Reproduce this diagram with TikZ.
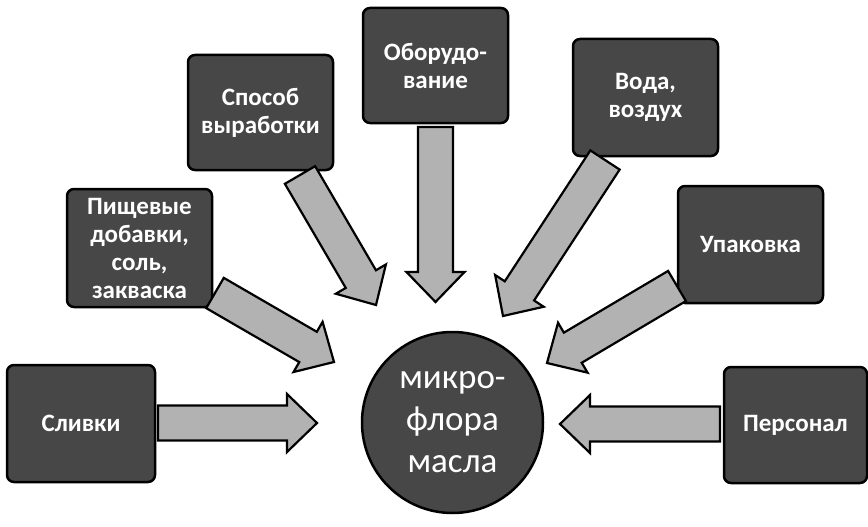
\documentclass[tikz,border=0pt]{standalone}
\usepackage{fontspec}
\setmainfont{Carlito}
\usetikzlibrary{calc}
\tikzset{
  srcbox/.style={draw=black, line width=2.5pt, rounded corners=7pt, fill=black!72,
    minimum width=145pt, minimum height=116pt, inner sep=2pt, align=center,
    text=white, font=\bfseries\fontsize{25}{28}\selectfont},
  hub/.style={circle, draw=black, line width=2.5pt, fill=black!72, minimum size=181pt,
    inner sep=0pt, align=center, text=white, font=\fontsize{35}{42}\selectfont},
  arrowbody/.style={draw=black, line width=2.2pt, fill=black!30, line join=miter}
}
\newcommand\blkarrow[2]{%
  \coordinate (hb) at ($(#2)!30pt!(#1)$);
  \draw[arrowbody] ($(#1)!17.5pt!90:(#2)$) -- ($(hb)!17.5pt!90:(#2)$)
    -- ($(hb)!29pt!90:(#2)$) -- (#2) -- ($(hb)!29pt!-90:(#2)$)
    -- ($(hb)!17.5pt!-90:(#2)$) -- ($(#1)!17.5pt!-90:(#2)$) -- cycle;
}
\begin{document}
\begin{tikzpicture}[x=1pt, y=-1pt]
\useasboundingbox (0,0) rectangle (868,527);
% source boxes
\node[srcbox, minimum width=148pt, minimum height=117pt] (sl) at (81,423.5) {Сливки};
\node[srcbox, minimum height=118pt] (pd) at (139.5,248) {Пищевые\\добавки,\\соль,\\закваска};
\node[srcbox, minimum height=115pt] (sp) at (260.5,112.5) {Способ\\выработки};
\node[srcbox, minimum height=115pt] (ob) at (435.5,65.5) {Оборудо-\\вание};
\node[srcbox, minimum height=117pt] (vv) at (645.5,97.5) {Вода,\\воздух};
\node[srcbox, minimum height=117pt] (up) at (750.5,244.5) {Упаковка};
\node[srcbox, minimum width=143pt, minimum height=116pt] (ps) at (795.5,425) {Персонал};
% hub
\node[hub] (mf) at (452.5,422.5) {микро-\\флора\\масла};
% arrow ends
\coordinate (a1s) at (158,423);   \coordinate (a1e) at (317,423);
\coordinate (a2s) at (215,293);   \coordinate (a2e) at (334,362);
\coordinate (a3s) at (300,175);   \coordinate (a3e) at (376,305);
\coordinate (a4s) at (435.5,127); \coordinate (a4e) at (435.5,302);
\coordinate (a5s) at (605,160);   \coordinate (a5e) at (503,316);
\coordinate (a6s) at (677,286);   \coordinate (a6e) at (547,363);
\coordinate (a7s) at (720,424);   \coordinate (a7e) at (560,424);
\blkarrow{a1s}{a1e}
\blkarrow{a2s}{a2e}
\blkarrow{a3s}{a3e}
\blkarrow{a4s}{a4e}
\blkarrow{a5s}{a5e}
\blkarrow{a6s}{a6e}
\blkarrow{a7s}{a7e}
\end{tikzpicture}
\end{document}
